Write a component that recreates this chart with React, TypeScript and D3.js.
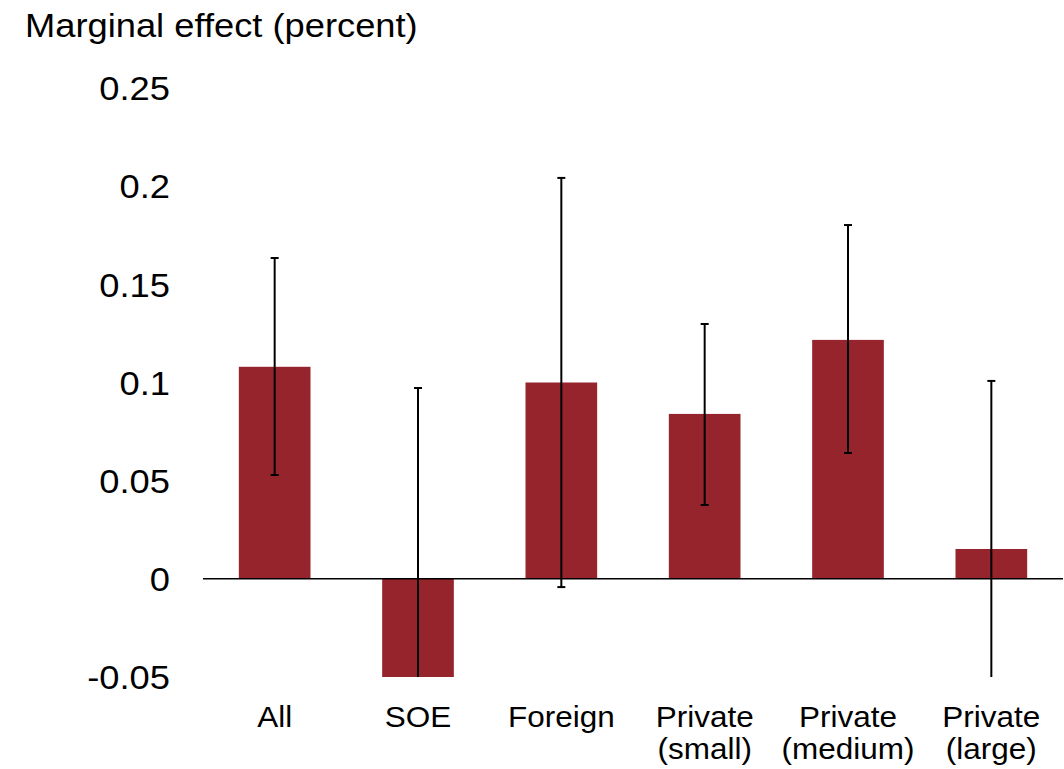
import React from "react";
import * as d3 from "d3";

// Marginal effect by firm ownership type, with confidence intervals
const categories = ["All", "SOE", "Foreign", "Private\n(small)", "Private\n(medium)", "Private\n(large)"];
const effects = [0.108, -0.05, 0.1, 0.084, 0.1217, 0.0152];
const ciUpper = [0.1634, 0.0972, 0.2042, 0.1298, 0.1802, 0.1008];
const ciLower = [0.0529, -0.197, -0.0042, 0.0376, 0.0641, -0.0704];
const yTicks = [-0.05, 0, 0.05, 0.1, 0.15, 0.2, 0.25];
const yTickLabels = ["-0.05", "0", "0.05", "0.1", "0.15", "0.2", "0.25"];

const W = 1064;
const H = 769;
const BAR = "#96242d";
const FONT = "Liberation Sans, Arial, Helvetica, sans-serif";
// glyphs are set slightly wide
const STRETCH = 1.068;

export default function App() {
  const x = d3
    .scaleBand<number>()
    .domain(d3.range(categories.length))
    .range([203, 1063])
    .paddingInner(0.5)
    .paddingOuter(0.25);
  const y = d3.scaleLinear().domain([-0.05, 0.25]).range([677, 88]);
  const [yMin, yMax] = y.domain();
  const clamp = (v: number) => Math.max(yMin, Math.min(yMax, v));

  return (
    <svg
      width={W}
      height={H}
      style={{ position: "absolute", left: 0, top: 0, background: "#fff" }}
      fontFamily={FONT}
    >
      <text transform={`translate(25,37) scale(${STRETCH},1)`} fontSize={34} fill="#000">
        Marginal effect (percent)
      </text>

      {yTicks.map((t, i) => (
        <text
          key={t}
          transform={`translate(170,${y(t)}) scale(${STRETCH},1)`}
          dy="0.36em"
          textAnchor="end"
          fontSize={34}
          fill="#000"
        >
          {yTickLabels[i]}
        </text>
      ))}

      {effects.map((v, i) => (
        <rect
          key={i}
          x={x(i)}
          width={x.bandwidth()}
          y={y(Math.max(0, v))}
          height={Math.abs(y(v) - y(0))}
          fill={BAR}
        />
      ))}

      <line x1={203} x2={1063} y1={y(0)} y2={y(0)} stroke="#000" strokeWidth={1.5} />

      {effects.map((_, i) => {
        const cx = (x(i) ?? 0) + x.bandwidth() / 2;
        const hi = clamp(ciUpper[i]);
        const lo = clamp(ciLower[i]);
        const cap = 4;
        return (
          <g key={i} stroke="#000" strokeWidth={2}>
            <line x1={cx} x2={cx} y1={y(hi)} y2={y(lo)} />
            {hi === ciUpper[i] && (
              <line x1={cx - cap} x2={cx + cap} y1={y(hi)} y2={y(hi)} />
            )}
            {lo === ciLower[i] && (
              <line x1={cx - cap} x2={cx + cap} y1={y(lo)} y2={y(lo)} />
            )}
          </g>
        );
      })}

      {categories.map((c, i) => {
        const cx = (x(i) ?? 0) + x.bandwidth() / 2;
        const lines = c.split("\n");
        return (
          <text
            key={i}
            transform={`translate(${cx},727) scale(${STRETCH},1)`}
            textAnchor="middle"
            fontSize={29.5}
            fill="#000"
          >
            {lines.map((l, j) => (
              <tspan key={j} x={0} dy={j === 0 ? 0 : 32}>
                {l}
              </tspan>
            ))}
          </text>
        );
      })}
    </svg>
  );
}
